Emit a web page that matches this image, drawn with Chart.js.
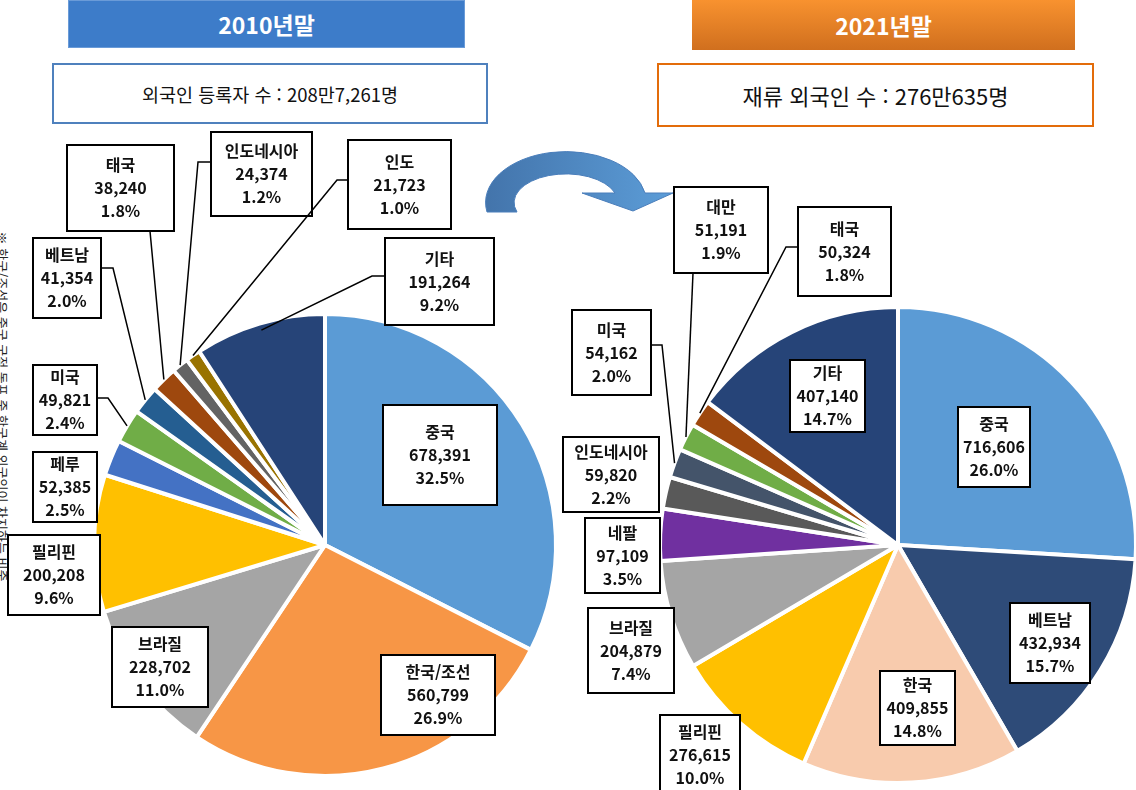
<!DOCTYPE html>
<html lang="ko">
<head>
<meta charset="utf-8">
<script src="https://cdn.jsdelivr.net/npm/chart.js@4.4.1/dist/chart.umd.min.js"></script>
<style>
  html, body { margin: 0; padding: 0; }
  body {
    width: 1136px; height: 790px; overflow: hidden; position: relative;
    background: #fff; font-family: "Noto Sans CJK KR", "Noto Sans", sans-serif;
  }
  .abs { position: absolute; }
  .head {
    color: #fff; font-weight: bold; font-size: 23px;
    display: flex; align-items: center; justify-content: center;
  }
  .sub {
    background: #fff; color: #111; box-sizing: border-box;
    display: flex; align-items: center; justify-content: center;
  }
  #note {
    left: -183px; top: 397px; width: 370px; font-size: 13px; color: #222;
    transform: rotate(90deg); text-align: center; white-space: nowrap;
  }
</style>
</head>
<body>

<div class="abs head" style="left:68px;top:0;width:397px;height:48px;background:#3D7CC9;border:1px solid #6A9BD8;box-sizing:border-box;">2010년말</div>
<div class="abs sub" style="left:52px;top:63px;width:436px;height:61px;border:2px solid #4F81BD;font-size:18.5px;">외국인 등록자 수 : 208만7,261명</div>

<div class="abs head" style="left:692px;top:0;width:383px;height:50px;background:linear-gradient(#F8922F,#D06F1E);">2021년말</div>
<div class="abs sub" style="left:657px;top:63px;width:437px;height:64px;border:2px solid #E36C0A;font-size:22px;">재류 외국인 수 : 276만635명</div>

<div id="note" class="abs">※ 한국/조선은 중국 국적 동포 중 한국계 외국인이 차지하는 비중</div>

<svg class="abs" style="left:0;top:0" width="1136" height="790">
  <defs>
    <linearGradient id="arrowGrad" x1="0" x2="1" y1="0" y2="0">
      <stop offset="0" stop-color="#4374AB"/>
      <stop offset="1" stop-color="#5C9DD8"/>
    </linearGradient>
  </defs>
  <path d="M487,212 A79,50 0 0 1 645,193 L673,193 L633,211 L582,193 L615,193 A49,27 0 0 0 517,212 Z"
        fill="url(#arrowGrad)" stroke="#4A7EBB" stroke-width="1"/>
</svg>

<canvas id="pie2010" class="abs" style="left:0;top:0"></canvas>
<canvas id="pie2021" class="abs" style="left:550px;top:0"></canvas>

<script>
// 2010년말 외국인 등록자
const labels2010 = ['중국', '한국/조선', '브라질', '필리핀', '페루', '미국', '베트남', '태국', '인도네시아', '인도', '기타'];
const values2010 = [678391, 560799, 228702, 200208, 52385, 49821, 41354, 38240, 24374, 21723, 191264];
const colors2010 = ['#5B9BD5', '#F79646', '#A5A5A5', '#FFC000', '#4472C4', '#70AD47', '#255E91', '#9E480E', '#636363', '#997300', '#264478'];

// 2021년말 재류 외국인
const labels2021 = ['중국', '베트남', '한국', '필리핀', '브라질', '네팔', '인도네시아', '미국', '대만', '태국', '기타'];
const values2021 = [716606, 432934, 409855, 276615, 204879, 97109, 59820, 54162, 51191, 50324, 407140];
const colors2021 = ['#5B9BD5', '#2E4B78', '#F8CBAD', '#FFC000', '#A5A5A5', '#7030A0', '#595959', '#44546A', '#70AD47', '#9E480E', '#264478'];

// callout boxes (page coords) and leader elbows
const boxes2010 = [
  { x: 383, y: 405, w: 114, h: 100 },
  { x: 381, y: 655, w: 114, h: 80 },
  { x: 112, y: 627, w: 96, h: 80 },
  { x: 8, y: 535, w: 92, h: 80 },
  { x: 33, y: 452, w: 64, h: 70 },
  { x: 33, y: 365, w: 64, h: 70, lead: [[97, 398], [108, 398]] },
  { x: 33, y: 238, w: 68, h: 80, lead: [[101, 268], [113, 268]] },
  { x: 67, y: 145, w: 107, h: 86, lead: [[150, 231]] },
  { x: 211, y: 132, w: 101, h: 84, lead: [[211, 162], [198, 162]] },
  { x: 348, y: 140, w: 103, h: 89, lead: [[348, 180], [337, 180]] },
  { x: 385, y: 238, w: 109, h: 87, lead: [[385, 276], [372, 276]], r: 0.97 }
];
const boxes2021 = [
  { x: 958, y: 407, w: 72, h: 80 },
  { x: 1010, y: 603, w: 80, h: 80 },
  { x: 880, y: 671, w: 75, h: 74 },
  { x: 660, y: 715, w: 80, h: 80 },
  { x: 588, y: 608, w: 86, h: 85 },
  { x: 585, y: 518, w: 75, h: 75 },
  { x: 563, y: 437, w: 96, h: 75 },
  { x: 572, y: 310, w: 79, h: 85, lead: [[651, 345], [662, 345]] },
  { x: 674, y: 187, w: 94, h: 86, lead: [[693, 273]] },
  { x: 798, y: 207, w: 93, h: 89, lead: [[798, 247], [786, 247]] },
  { x: 790, y: 360, w: 75, h: 72 }
];

const calloutPlugin = {
  id: 'callouts',
  afterDraw(chart, args, opts) {
    const ctx = chart.ctx;
    const meta = chart.getDatasetMeta(0);
    const data = chart.data.datasets[0].data;
    const total = data.reduce((a, b) => a + b, 0);
    const ox = opts.offsetX;
    ctx.save();
    opts.boxes.forEach((b, i) => {
      const arc = meta.data[i];
      if (b.lead) {
        const mid = (arc.startAngle + arc.endAngle) / 2;
        const rr = arc.outerRadius * (b.r || 1);
        ctx.beginPath();
        ctx.moveTo(b.lead[0][0] - ox, b.lead[0][1]);
        b.lead.slice(1).forEach(p => ctx.lineTo(p[0] - ox, p[1]));
        ctx.lineTo(arc.x + Math.cos(mid) * rr, arc.y + Math.sin(mid) * rr);
        ctx.strokeStyle = '#000';
        ctx.lineWidth = 1.5;
        ctx.stroke();
      }
      const x = b.x - ox;
      ctx.fillStyle = '#fff';
      ctx.fillRect(x, b.y, b.w, b.h);
      ctx.strokeStyle = '#000';
      ctx.lineWidth = 2;
      ctx.strokeRect(x, b.y, b.w, b.h);

      const lines = [
        chart.data.labels[i],
        data[i].toLocaleString('en-US'),
        (data[i] / total * 100).toFixed(1) + '%'
      ];
      ctx.fillStyle = '#111';
      ctx.font = 'bold 16px "Noto Sans CJK KR", sans-serif';
      ctx.textAlign = 'center';
      ctx.textBaseline = 'middle';
      const cx = x + b.w / 2, cy = b.y + b.h / 2;
      lines.forEach((t, k) => ctx.fillText(t, cx, cy + (k - 1) * 23));
    });
    ctx.restore();
  }
};

function drawPie(id, labels, values, colors, boxes, offsetX, width, padding) {
  const canvas = document.getElementById(id);
  canvas.width = width;
  canvas.height = 790;
  canvas.style.width = width + 'px';
  canvas.style.height = '790px';
  new Chart(canvas.getContext('2d'), {
    type: 'pie',
    data: {
      labels,
      datasets: [{
        data: values,
        backgroundColor: colors,
        borderColor: '#fff',
        borderWidth: 4
      }]
    },
    options: {
      responsive: false,
      animation: false,
      layout: { padding },
      plugins: {
        legend: { display: false },
        tooltip: { enabled: false },
        callouts: { boxes, offsetX }
      }
    },
    plugins: [calloutPlugin]
  });
}

drawPie('pie2010', labels2010, values2010, colors2010, boxes2010, 0, 570,
  { left: 92, right: 12, top: 312, bottom: 12 });
drawPie('pie2021', labels2021, values2021, colors2021, boxes2021, 550, 600,
  { left: 108, right: 12, top: 305, bottom: 5 });
</script>
</body>
</html>
